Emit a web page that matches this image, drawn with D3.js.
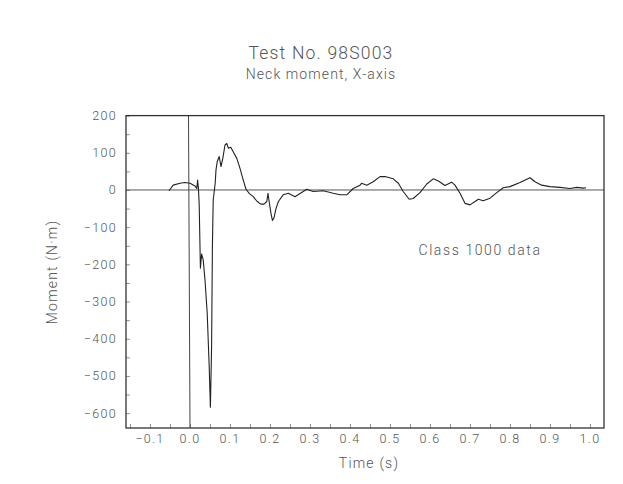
<!DOCTYPE html>
<html>
<head>
<meta charset="utf-8">
<script src="https://cdn.jsdelivr.net/npm/d3@7/dist/d3.min.js"></script>
<style>
  html, body { margin: 0; padding: 0; background: #fff; }
  svg text { font-family: "DejaVu Sans ExtraLight", "Roboto", "DejaVu Sans", sans-serif; font-weight: 300; fill: #555; }
</style>
</head>
<body>
<svg id="chart" width="623" height="484"></svg>
<script>
const title = "Test No. 98S003";
const subtitle = "Neck moment, X-axis";
const xLabel = "Time (s)";
const yLabel = "Moment (N·m)";
const note = "Class 1000 data";

const xTickValues = [-0.1, 0.0, 0.1, 0.2, 0.3, 0.4, 0.5, 0.6, 0.7, 0.8, 0.9, 1.0];
const yTickValues = [200, 100, 0, -100, -200, -300, -400, -500, -600];

const timeS = [
  -0.0525, -0.042, -0.025, -0.0125, 0.0, 0.0125, 0.017, 0.019, 0.021, 0.023,
  0.026, 0.029, 0.033, 0.0375, 0.043, 0.048, 0.051, 0.054, 0.056, 0.058,
  0.061, 0.063, 0.065, 0.068, 0.073, 0.0775, 0.082, 0.0875, 0.092, 0.096,
  0.102, 0.108, 0.117, 0.125, 0.133, 0.14, 0.148, 0.158, 0.168, 0.177,
  0.185, 0.192, 0.195, 0.197, 0.2025, 0.206, 0.21, 0.215, 0.221, 0.233,
  0.246, 0.2625, 0.279, 0.292, 0.308, 0.333, 0.358, 0.375, 0.392, 0.408,
  0.425, 0.429, 0.442, 0.458, 0.475, 0.4875, 0.508, 0.521, 0.533, 0.548,
  0.558, 0.575, 0.592, 0.608, 0.621, 0.6375, 0.654, 0.6625, 0.675, 0.6875,
  0.7, 0.7125, 0.721, 0.733, 0.75, 0.767, 0.783, 0.8, 0.825, 0.85,
  0.8625, 0.879, 0.9, 0.925, 0.95, 0.967, 0.983, 0.99
];
const momentNm = [
  -2, 13, 18, 20, 18, 11, 4, 27, 5, -40,
  -210, -172, -188, -242, -331, -475, -584, -421, -152, -27,
  0, 18, 54, 76, 90, 63, 85, 121, 125, 112,
  115, 103, 85, 58, 27, 2, -9, -18, -31, -38,
  -38, -31, -9, -25, -63, -82, -75, -50, -31, -13,
  -9, -18, -7, 2, -4, -2, -9, -13, -13, 4,
  13, 18, 13, 22, 36, 36, 30, 18, -4, -25,
  -23, -7, 16, 30, 24, 12, 21, 13, -9, -36,
  -40, -31, -25, -29, -22, -7, 6, 9, 20, 33,
  22, 13, 9, 7, 4, 7, 5, 6
];

const svg = d3.select("#chart");
const pLeft = 126, pRight = 604, pTop = 115.6, pBottom = 428;

const x = d3.scaleLinear().domain([-0.16, 1.035]).range([pLeft, pRight]);
const y = d3.scaleLinear().domain([-640, 200]).range([pBottom, pTop]);

const ink = "#333";

// ticks on x (inside, pointing up) every 0.05
const xTicksAll = d3.range(-0.15, 1.0001, 0.05);
const xAxis = d3.axisBottom(x).tickValues(xTicksAll).tickSize(-4).tickFormat("");
svg.append("g").attr("transform", `translate(0,${pBottom})`).call(xAxis)
  .call(g => g.select(".domain").remove())
  .call(g => g.selectAll("line").attr("stroke", "#777").attr("stroke-width", 0.8));

// x tick labels
svg.append("g").selectAll("text").data(xTickValues).join("text")
  .attr("x", d => x(d)).attr("y", 443)
  .attr("text-anchor", "middle").attr("font-size", 12.5).attr("letter-spacing", 1.3)
  .text(d => (d < 0 ? "\u2212" : "") + Math.abs(d).toFixed(1));

// y ticks inside every 50
const yTicksAll = d3.range(-600, 200.001, 50);
const yAxis = d3.axisLeft(y).tickValues(yTicksAll).tickSize(-4).tickFormat("");
svg.append("g").attr("transform", `translate(${pLeft},0)`).call(yAxis)
  .call(g => g.select(".domain").remove())
  .call(g => g.selectAll("line").attr("stroke", "#777").attr("stroke-width", 0.8));

// y tick labels
svg.append("g").selectAll("text").data(yTickValues).join("text")
  .attr("x", 117).attr("y", d => y(d) + 4.5)
  .attr("text-anchor", "end").attr("font-size", 12.5).attr("letter-spacing", 1.3)
  .text(d => (d < 0 ? "\u2212" : "") + Math.abs(d));

// zero reference lines
svg.append("line").attr("x1", pLeft).attr("x2", pRight).attr("y1", y(0)).attr("y2", y(0))
  .attr("stroke", "#555").attr("stroke-width", 1);
svg.append("line").attr("x1", x(0) - 1.5).attr("x2", x(0)).attr("y1", pTop).attr("y2", pBottom)
  .attr("stroke", "#444").attr("stroke-width", 1);

// frame
svg.append("rect").attr("x", pLeft).attr("y", pTop).attr("width", pRight - pLeft).attr("height", pBottom - pTop)
  .attr("fill", "none").attr("stroke", ink).attr("stroke-width", 1.3);

// data curve
const line = d3.line().x((d, i) => x(timeS[i])).y(d => y(d));
svg.append("path").datum(momentNm).attr("d", line)
  .attr("fill", "none").attr("stroke", "#222").attr("stroke-width", 1.1).attr("stroke-linejoin", "round");

// titles
svg.append("text").attr("x", 321).attr("y", 59).attr("text-anchor", "middle")
  .attr("font-size", 17.5).attr("letter-spacing", 1.2).text(title);
svg.append("text").attr("x", 321).attr("y", 79).attr("text-anchor", "middle")
  .attr("font-size", 14).attr("letter-spacing", 1.1).text(subtitle);

svg.append("text").attr("x", 369).attr("y", 468).attr("text-anchor", "middle")
  .attr("font-size", 14).attr("letter-spacing", 1.2).text(xLabel);
svg.append("text").attr("transform", "translate(57,272) rotate(-90)").attr("text-anchor", "middle")
  .attr("font-size", 14).attr("letter-spacing", 1.2).text(yLabel);

svg.append("text").attr("x", 480).attr("y", 255).attr("text-anchor", "middle")
  .attr("font-size", 14).attr("letter-spacing", 1.6).text(note);
</script>
</body>
</html>
